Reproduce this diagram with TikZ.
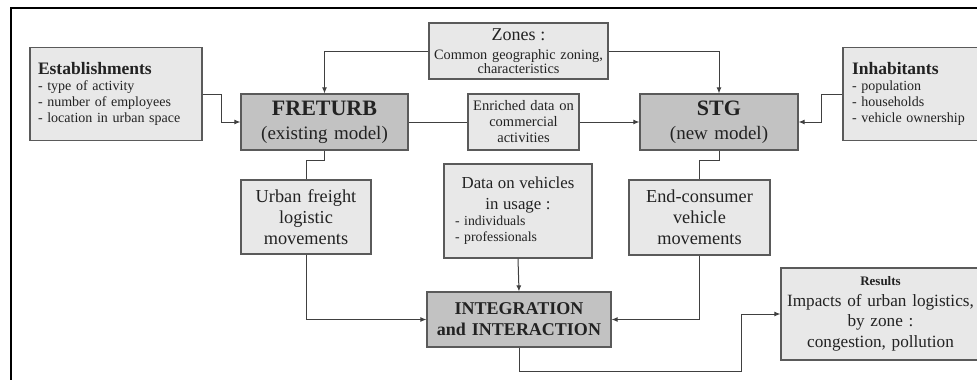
\documentclass[tikz,border=0pt]{standalone}
\usepackage{fontspec}
\setmainfont{Liberation Serif}
\usetikzlibrary{arrows.meta}
\definecolor{lightbox}{HTML}{E8E8E8}
\definecolor{darkbox}{HTML}{C2C2C2}
\definecolor{edgegray}{HTML}{5A5A5A}
\definecolor{txt}{HTML}{222222}
\newcommand\fsz[2]{\fontsize{#1}{#2}\selectfont}
\begin{document}
\begin{tikzpicture}[x=1pt,y=-1pt,
  box/.style={draw=edgegray, line width=1.2pt, fill=lightbox, text=txt, inner sep=0pt, align=center},
  dbox/.style={box, fill=darkbox},
  conn/.style={draw=black!75, line width=1pt},
  arr/.style={conn, -{Latex[length=6pt,width=5pt]}}]
\useasboundingbox (0,0) rectangle (977,380);
\clip (0,0) rectangle (977,380);
\fill[white] (0,0) rectangle (977,380);
\draw[line width=2.5pt] (11,8) rectangle (1000,400);

% top row
\node[box, minimum width=172, minimum height=93, inner xsep=8pt, text width=156, align=left,
      font=\fsz{14}{16}] (estab) at (116,94)
 {{\fsz{17.5}{17}\bfseries Establishments\par}
  - type of activity\\- number of employees\\- location in urban space};
\node[box, minimum width=179, minimum height=56, text width=175, font=\fsz{14.3}{13.5}] (zones) at (518.5,51)
 {{\fsz{18}{19}Zones :\par}\vspace{6pt}Common geographic zoning,\\characteristics};
\node[dbox, minimum width=167, minimum height=56, text width=163, font=\fsz{19}{21}] (fret) at (324.5,122)
 {{\fsz{22}{25}\bfseries FRETURB\par}\vspace{3pt}(existing model)};
\node[box, minimum width=111, minimum height=56, text width=107, font=\fsz{14.5}{16}] (enr) at (523.5,122)
 {Enriched data on\\commercial\\activities};
\node[dbox, minimum width=158, minimum height=56, text width=154, font=\fsz{19}{21}] (stg) at (719,122)
 {{\fsz{22}{25}\bfseries STG\par}\vspace{3pt}(new model)};
\node[box, minimum width=147, minimum height=93, inner xsep=9pt, text width=129, align=left,
      font=\fsz{14}{16}] (inh) at (916.5,94)
 {{\fsz{17.5}{17}\bfseries Inhabitants\par}
  - population\\- households\\- vehicle ownership};

% middle row
\node[box, minimum width=130, minimum height=74, text width=126, font=\fsz{18.3}{21}] (urban) at (306,217)
 {Urban freight\\logistic\\movements};
\node[box, minimum width=148, minimum height=94, inner xsep=11pt, text width=126, align=left,
      font=\fsz{13.8}{16}] (data) at (518,211)
 {{\centering\fsz{16.8}{21}Data on vehicles\\in usage :\par}
  - individuals\\- professionals};
\node[box, minimum width=141, minimum height=75, text width=137, font=\fsz{18.3}{21}] (endc) at (699.5,217.5)
 {End-consumer\\vehicle\\movements};

% bottom row
\node[dbox, minimum width=184, minimum height=55, text width=180, font=\fsz{18}{21}\bfseries] (integ) at (519,319.5)
 {INTEGRATION\\and INTERACTION};
\node[box, minimum width=199, minimum height=92, text width=193, font=\fsz{17.2}{20.5}] (res) at (880.5,314)
 {{\fsz{13}{17}\bfseries Results\par}\makebox[\linewidth]{Impacts of urban logistics,}\\by zone :\\congestion, pollution};

% connectors
\draw[arr] (zones.west) -| (fret.north);
\draw[arr] (zones.east) -| (stg.north);
\draw[arr] (estab.east) -- ++(19,0) |- (fret.west);
\draw[arr] (inh.west) -- ++(-21,0) |- (stg.east);
\draw[conn] (fret.east) -- (enr.west);
\draw[arr] (enr.east) -- (stg.west);
\draw[conn] (fret.south) -- ++(0,10) -| (urban.north);
\draw[conn] (stg.south) -- ++(0,10) -| (endc.north);
\draw[arr] (urban.south) |- (integ.west);
\draw[arr] (data.south) -- (integ.north);
\draw[arr] (endc.south) |- (integ.east);
\coordinate (r1) at (741,371);
\draw[arr] (integ.south) |- (r1) |- (res.west);
\end{tikzpicture}
\end{document}
